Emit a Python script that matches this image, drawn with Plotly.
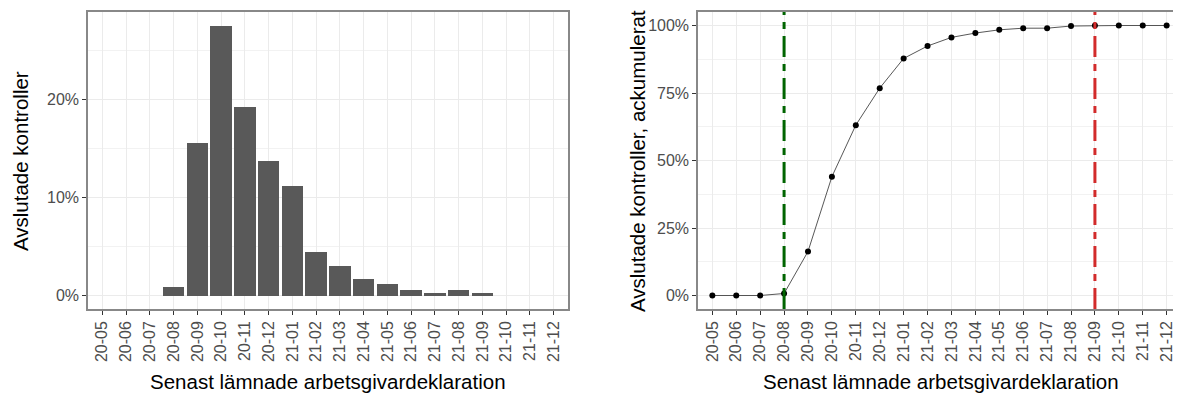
import plotly.graph_objects as go

months = ["20-05", "20-06", "20-07", "20-08", "20-09", "20-10", "20-11", "20-12",
          "21-01", "21-02", "21-03", "21-04", "21-05", "21-06", "21-07", "21-08",
          "21-09", "21-10", "21-11", "21-12"]
share_pct = [0, 0, 0, 0.89, 15.6, 27.6, 19.3, 13.8, 11.2, 4.46, 3.06, 1.67,
             1.22, 0.61, 0.27, 0.61, 0.27, 0, 0, 0]
cum_pct = [0, 0, 0, 0.74, 16.3, 44.0, 63.1, 76.8, 87.8, 92.4, 95.6, 97.2,
           98.4, 99.0, 99.0, 99.8, 100, 100, 100, 100]
left_ticks = [0, 10, 20]
left_minor = [5, 15, 25]
right_ticks = [0, 25, 50, 75, 100]
right_minor = [12.5, 37.5, 62.5, 87.5]
start_month = "20-08"
end_month = "21-09"

xtitle = "Senast lämnade arbetsgivardeklaration"
ytitle_left = "Avslutade kontroller"
ytitle_right = "Avslutade kontroller, ackumulerat"

# page body has an 8px default margin; work in page pixels and convert
OFF = 8
PW, PH = 1181, 394
W, H = PW - OFF, PH - OFF


def fx(px):
    return (px - OFF) / W


def fy(py):
    return 1 - (py - OFF) / H


FONT = "Liberation Sans, Arial, sans-serif"
TICKC = "#4D4D4D"
GRID = "#EBEBEB"
MINOR = "#F2F2F2"
BORDER = "#888888"

fig = go.Figure()
fig.add_trace(go.Bar(x=months, y=share_pct, marker=dict(color="#595959", line=dict(width=0)),
                     width=0.9, xaxis="x", yaxis="y", showlegend=False))
fig.add_trace(go.Scatter(x=months, y=cum_pct, mode="lines+markers",
                         line=dict(color="#444444", width=0.9),
                         marker=dict(color="black", size=6),
                         xaxis="x2", yaxis="y2", showlegend=False))

ydom = [fy(309), fy(12)]
xcommon = dict(type="category", range=[-0.6, len(months) - 0.4], tickangle=-90,
               tickfont=dict(family=FONT, size=16, color=TICKC),
               showgrid=True, gridcolor=GRID, gridwidth=1,
               showline=True, linecolor=BORDER, linewidth=1.5, mirror=True,
               ticks="outside", ticklen=4, tickcolor="#333333", tickwidth=1,
               zeroline=False, automargin=False)
ycommon = dict(tickfont=dict(family=FONT, size=16, color=TICKC),
               showgrid=True, gridcolor=GRID, gridwidth=1,
               showline=True, linecolor=BORDER, linewidth=1.5, mirror=True,
               ticks="outside", ticklen=4, tickcolor="#333333", tickwidth=1,
               zeroline=False, automargin=False, domain=ydom)

fig.update_layout(
    width=W, height=H,
    margin=dict(l=0, r=0, t=0, b=0),
    paper_bgcolor="white", plot_bgcolor="white",
    bargap=0,
    xaxis=dict(domain=[fx(88), fx(568)], anchor="y", **xcommon),
    xaxis2=dict(domain=[fx(698), 1.0], anchor="y2", **xcommon),
    yaxis=dict(anchor="x", range=[-1.38, 28.98], tickvals=left_ticks,
               ticktext=[f"{v}%" for v in left_ticks],
               minor=dict(tickvals=left_minor, showgrid=True, gridcolor=MINOR, gridwidth=0.7, ticks=""),
               **ycommon),
    yaxis2=dict(anchor="x2", range=[-5, 105], tickvals=right_ticks,
                ticktext=[f"{v}%" for v in right_ticks],
                minor=dict(tickvals=right_minor, showgrid=True, gridcolor=MINOR, gridwidth=0.7, ticks=""),
                **ycommon),
    shapes=[
        dict(type="line", xref="x2", yref="y2 domain", x0=start_month, x1=start_month, y0=0, y1=1,
             line=dict(color="#006400", width=3, dash="21px,7px,7px,7px"), layer="above"),
        dict(type="line", xref="x2", yref="y2 domain", x0=end_month, x1=end_month, y0=0, y1=1,
             line=dict(color="#D22B2B", width=3, dash="21px,7px,7px,7px"), layer="above"),
    ],
    annotations=[
        dict(text=xtitle, xref="paper", yref="paper", x=fx((88 + 568) / 2), y=fy(381),
             xanchor="center", yanchor="middle", showarrow=False,
             font=dict(family=FONT, size=20.5, color="black")),
        dict(text=xtitle, xref="paper", yref="paper", x=fx((698 + 1183) / 2), y=fy(381),
             xanchor="center", yanchor="middle", showarrow=False,
             font=dict(family=FONT, size=20.5, color="black")),
        dict(text=ytitle_left, xref="paper", yref="paper", x=fx(20), y=fy(161),
             xanchor="center", yanchor="middle", showarrow=False, textangle=-90,
             font=dict(family=FONT, size=20.5, color="black")),
        dict(text=ytitle_right, xref="paper", yref="paper", x=fx(637), y=fy(161),
             xanchor="center", yanchor="middle", showarrow=False, textangle=-90,
             font=dict(family=FONT, size=20.5, color="black")),
    ],
)

fig.write_html("out.html")
